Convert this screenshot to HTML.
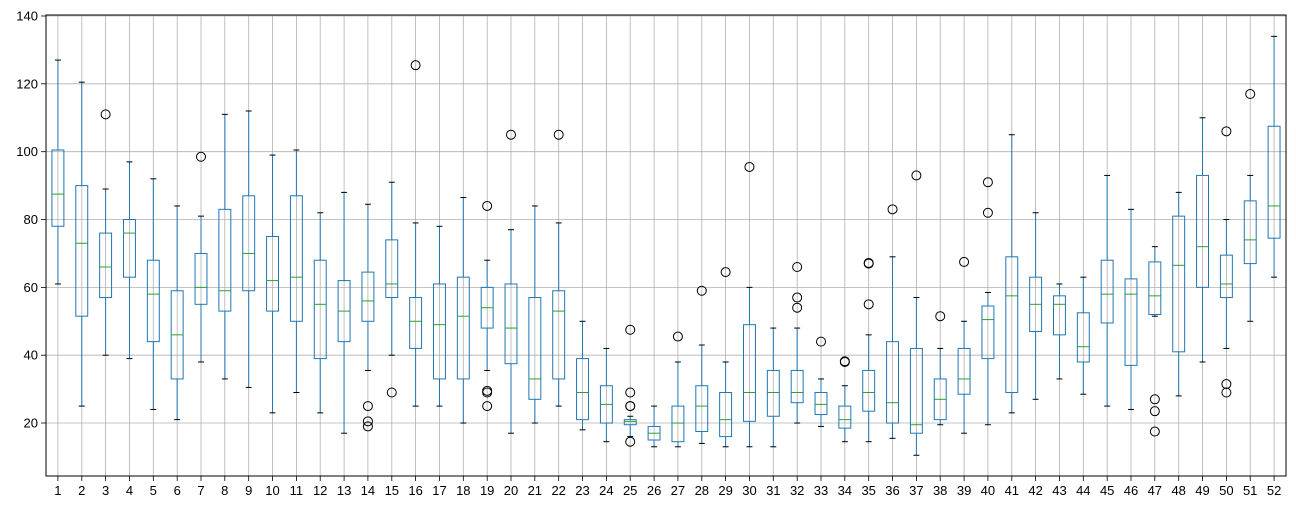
<!DOCTYPE html>
<html><head><meta charset="utf-8"><style>
html,body{margin:0;padding:0;background:#fff;}
svg text{font-family:"Liberation Sans","DejaVu Sans",sans-serif;font-size:13px;fill:#000;}
</style></head><body>
<svg id="s" width="1296" height="510" xmlns="http://www.w3.org/2000/svg"></svg>
<script>
const L=46,R=1286,T=15,B=476;
const y=v=>16+(140-v)*3.392;
const x=i=>L+(i-0.5)*(R-L)/52;
const d=[
[61,78,87.5,100.5,127,[]],[25,51.5,73,90,120.5,[]],[40,57,66,76,89,[111]],[39,63,76,80,97,[]],
[24,44,58,68,92,[]],[21,33,46,59,84,[]],[38,55,60,70,81,[98.5]],[33,53,59,83,111,[]],
[30.5,59,70,87,112,[]],[23,53,62,75,99,[]],[29,50,63,87,100.5,[]],[23,39,55,68,82,[]],
[17,44,53,62,88,[]],[35.5,50,56,64.5,84.5,[25,20.5,19]],[40,57,61,74,91,[29]],[25,42,50,57,79,[125.5]],
[25,33,49,61,78,[]],[20,33,51.5,63,86.5,[]],[35.5,48,54,60,68,[84,29.5,29,25]],[17,37.5,48,61,77,[105]],
[20,27,33,57,84,[]],[25,33,53,59,79,[105]],[18,21,29,39,50,[]],[14.5,20,25.5,31,42,[]],
[16,19.5,20.5,21,22,[47.5,29,25,25,14.5]],[13,15,17,19,25,[]],[13,14.5,20,25,38,[45.5]],[14,17.5,25,31,43,[59]],
[13,16,21,29,38,[64.5]],[13,20.5,29,49,60,[95.5]],[13,22,29,35.5,48,[]],[20,26,29,35.5,48,[66,57,54]],
[19,22.5,25.5,29,33,[44]],[14.5,18.5,21,25,31,[38,38.2]],[14.5,23.5,29,35.5,46,[67,67.2,55]],[15.5,20,26,44,69,[83]],
[10.5,17,19.5,42,57,[93]],[19.5,21,27,33,42,[51.5]],[17,28.5,33,42,50,[67.5]],[19.5,39,50.5,54.5,58.5,[91,82]],
[23,29,57.5,69,105,[]],[27,47,55,63,82,[]],[33,46,55,57.5,61,[]],[28.5,38,42.5,52.5,63,[]],
[25,49.5,58,68,93,[]],[24,37,58,62.5,83,[]],[51.5,52,57.5,67.5,72,[27,23.5,17.5]],[28,41,66.5,81,88,[]],
[38,60,72,93,110,[]],[42,57,61,69.5,80,[106,31.5,29]],[50,67,74,85.5,93,[117]],[63,74.5,84,107.5,134,[]]];
let h='';
// grid
for(let i=1;i<=52;i++){const X=x(i).toFixed(1);h+=`<line x1="${X}" x2="${X}" y1="${T}" y2="${B}" stroke="#b0b0b0" stroke-width="0.8"/>`;
h+=`<line x1="${X}" x2="${X}" y1="${B}" y2="${B+5}" stroke="#000" stroke-width="0.8"/>`;
h+=`<text x="${X}" y="${B+19}" text-anchor="middle">${i}</text>`;}
for(let v=20;v<=140;v+=20){const Y=y(v).toFixed(1);h+=`<line x1="${L}" x2="${R}" y1="${Y}" y2="${Y}" stroke="#b0b0b0" stroke-width="0.8"/>`;
h+=`<line x1="${L-5}" x2="${L}" y1="${Y}" y2="${Y}" stroke="#000" stroke-width="0.8"/>`;
h+=`<text x="${L-8}" y="${(+Y+4.5).toFixed(1)}" text-anchor="end">${v}</text>`;}
const w=(R-L)/52*0.25;const c=w/2;
d.forEach((b,k)=>{const X=x(k+1);const c1='#1f77b4';
h+=`<line x1="${X}" x2="${X}" y1="${y(b[0])}" y2="${y(b[1])}" stroke="${c1}"/>`;
h+=`<line x1="${X}" x2="${X}" y1="${y(b[3])}" y2="${y(b[4])}" stroke="${c1}"/>`;
h+=`<line x1="${X-c}" x2="${X+c}" y1="${y(b[0])}" y2="${y(b[0])}" stroke="#000"/>`;
h+=`<line x1="${X-c}" x2="${X+c}" y1="${y(b[4])}" y2="${y(b[4])}" stroke="#000"/>`;
h+=`<rect x="${X-w}" y="${y(b[3])}" width="${2*w}" height="${y(b[1])-y(b[3])}" fill="none" stroke="${c1}"/>`;
h+=`<line x1="${X-w}" x2="${X+w}" y1="${y(b[2])}" y2="${y(b[2])}" stroke="#2ca02c"/>`;
b[5].forEach(o=>{h+=`<circle cx="${X}" cy="${y(o)}" r="4.5" fill="none" stroke="#000"/>`;});
});
h+=`<rect x="${L}" y="${T}" width="${R-L}" height="${B-T}" fill="none" stroke="#000" stroke-width="1"/>`;
document.getElementById('s').innerHTML=h;
</script>
</body></html>
